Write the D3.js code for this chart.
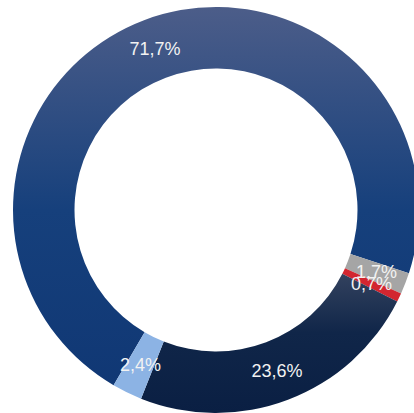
<!DOCTYPE html>
<html>
<head>
<meta charset="utf-8">
<script src="https://cdn.jsdelivr.net/npm/d3@7"></script>
<style>
  html, body { margin: 0; padding: 0; background: #ffffff; }
  svg { display: block; }
</style>
</head>
<body>
<svg id="chart" width="414" height="413"></svg>
<script>
// Share of each segment, in percent, drawn clockwise
const categories = ["A", "B", "C", "D", "E"];
const values = [71.7, 1.7, 0.7, 23.6, 2.4];
const labels = ["71,7%", "1,7%", "0,7%", "23,6%", "2,4%"];

const width = 414, height = 413;
const cx = 216, cy = 210;
const outerR = 203, innerR = 141.5;
const startDeg = 210.3;

const svg = d3.select("#chart");
const defs = svg.append("defs");

// Vertical gradients for the two dark segments (coordinates relative to the ring centre)
function vGrad(id, y1, y2, stops) {
  const g = defs.append("linearGradient")
    .attr("id", id)
    .attr("gradientUnits", "userSpaceOnUse")
    .attr("x1", 0).attr("x2", 0)
    .attr("y1", y1).attr("y2", y2);
  stops.forEach(([o, c]) => g.append("stop").attr("offset", o).attr("stop-color", c));
}
vGrad("gMain", -outerR, outerR, [[0, "#4c5d89"], [0.5, "#16407c"], [1, "#0f3673"]]);
vGrad("gDark", 252 - cy, outerR, [[0, "#404c66"], [0.5, "#102649"], [1, "#0a1f43"]]);

const fills = ["url(#gMain)", "#a5a5a5", "#d22630", "url(#gDark)", "#8cb3e4"];

const color = d3.scaleOrdinal().domain(categories).range(fills);

const start = startDeg * Math.PI / 180;
const pie = d3.pie()
  .value(d => d.value)
  .sort(null)
  .startAngle(start)
  .endAngle(start + 2 * Math.PI);

const data = categories.map((c, i) => ({ cat: c, value: values[i], label: labels[i] }));
const arcs = pie(data);

const arc = d3.arc().innerRadius(innerR).outerRadius(outerR);
const labelArc = d3.arc().innerRadius((innerR + outerR) / 2).outerRadius((innerR + outerR) / 2);

const g = svg.append("g").attr("transform", `translate(${cx},${cy})`);

g.selectAll("path.slice")
  .data(arcs)
  .join("path")
  .attr("class", "slice")
  .attr("d", arc)
  .attr("fill", d => color(d.data.cat));

g.selectAll("text.lbl")
  .data(arcs)
  .join("text")
  .attr("class", "lbl")
  .attr("transform", d => `translate(${labelArc.centroid(d)})`)
  .attr("text-anchor", "middle")
  .attr("dominant-baseline", "central")
  .attr("font-family", "Liberation Sans, Arial, sans-serif")
  .attr("font-size", 18)
  .attr("fill", "#f2f2f2")
  .text(d => d.data.label);
</script>
</body>
</html>
